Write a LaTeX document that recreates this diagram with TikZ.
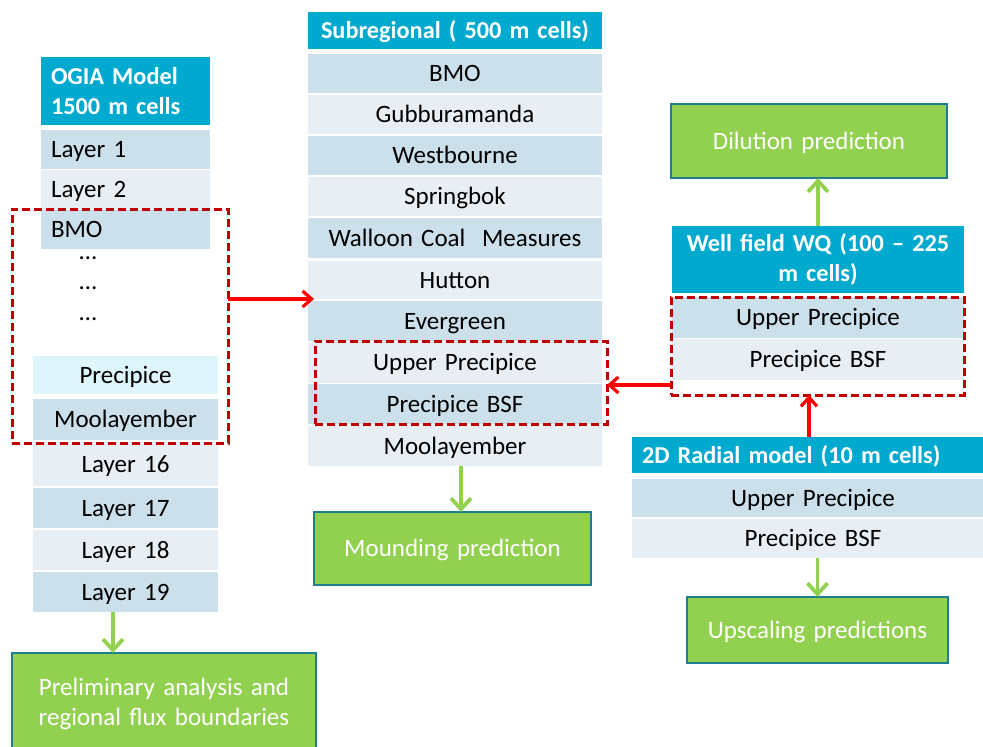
\documentclass[tikz,border=0pt]{standalone}
\usepackage{fontspec}
\setmainfont{Carlito}[WordSpace=0.7]
\usetikzlibrary{arrows.meta}
\definecolor{hdr}{HTML}{00A9CE}
\definecolor{rowdk}{HTML}{CBE0EA}
\definecolor{rowlt}{HTML}{E7EFF5}
\definecolor{rowcy}{HTML}{DEF5FB}
\definecolor{grn}{HTML}{92D050}
\definecolor{teal}{HTML}{1F7D8E}
\definecolor{dred}{HTML}{C00000}
\definecolor{bred}{HTML}{FF0000}
\newcommand\cell[7]{%
  \pgfmathsetmacro\cellW{#5-#3}\pgfmathsetmacro\cellH{#6-#4}\pgfmathsetmacro\cellT{#5-#3-20}%
  \node[cellbase,anchor=north west,minimum width=\cellW pt,minimum height=\cellH pt,text width=\cellT pt,#2] (#1) at (#3,#4) {#7};}
\newcommand\dbox[5]{%
  \pgfmathsetmacro\cellW{#4-#2}\pgfmathsetmacro\cellH{#5-#3}%
  \node[dashbox,anchor=north west,minimum width=\cellW pt,minimum height=\cellH pt] (#1) at (#2,#3) {};}
\tikzset{
  cellbase/.style={inner xsep=10pt,inner ysep=0pt,outer sep=0pt,font=\fontsize{25}{30}\selectfont},
  ol/.style={text height=16pt,text depth=0pt},
  hdrL/.style={fill=hdr,text=white,font=\fontsize{24.3}{30}\selectfont\bfseries,align=left},
  hdrC/.style={fill=hdr,text=white,font=\fontsize{24.3}{30}\selectfont\bfseries,align=center},
  dkL/.style={fill=rowdk,align=left,ol},
  ltL/.style={fill=rowlt,align=left,ol},
  dkC/.style={fill=rowdk,align=center,ol},
  ltC/.style={fill=rowlt,align=center,ol},
  cyC/.style={fill=rowcy,align=center,ol},
  outbox/.style={fill=grn,draw=teal,line width=2.5pt,text=white,align=center},
  dashbox/.style={draw=dred,line width=3pt,dash pattern=on 8pt off 4pt,inner sep=0pt,outer sep=0pt},
  redar/.style={draw=bred,line width=3.2pt,-{Straight Barb[length=9pt,width=16pt,line width=3.2pt]}},
  grnar/.style={draw=grn,line width=3.8pt,-{Straight Barb[length=11pt,width=20pt,line width=3.8pt]}},
  dots/.style={font=\fontsize{25}{30}\selectfont,anchor=base,inner sep=0pt,text height=4pt,text depth=0pt}
}
\begin{document}
\begin{tikzpicture}[x=1pt,y=-1pt]
\useasboundingbox[fill=white] (0,0) rectangle (983,747);
% left column
\cell{lh}{hdrL}{41}{57}{210}{125}{OGIA Model\\1500 m cells}
\cell{l1}{dkL}{41}{130}{210}{169}{Layer 1}
\cell{l2}{ltL}{41}{170}{210}{209}{Layer 2}
\cell{lbmo}{dkL}{41}{210}{210}{249}{BMO}
\node[dots] (ld1) at (88,259) {…};
\node[dots] (ld2) at (88,289) {…};
\node[dots] (ld3) at (88,320) {…};
\cell{lprec}{cyC}{33}{356}{218}{394}{Precipice}
\cell{lmoo}{dkC}{33}{399}{218}{440}{Moolayember}
\cell{l16}{ltC}{33}{442}{218}{486}{Layer 16}
\cell{l17}{dkC}{33}{488}{218}{528}{Layer 17}
\cell{l18}{ltC}{33}{530}{218}{570}{Layer 18}
\cell{l19}{dkC}{33}{572}{218}{612}{Layer 19}
\cell{prelim}{outbox}{12}{653}{316}{755}{Preliminary analysis and\\regional flux boundaries}
\dbox{d1}{12}{209}{228}{443}
% middle column
\cell{mh}{hdrC,ol,inner xsep=1pt,text width=292pt}{308}{12}{602}{49}{Subregional ( 500 m cells)}
\cell{m1}{dkC}{308}{54}{602}{93}{BMO}
\cell{m2}{ltC}{308}{95}{602}{134}{Gubburamanda}
\cell{m3}{dkC}{308}{136}{602}{175}{Westbourne}
\cell{m4}{ltC}{308}{177}{602}{216}{Springbok}
\cell{m5}{dkC}{308}{218}{602}{258}{Walloon Coal\ \ Measures}
\cell{m6}{ltC}{308}{261}{602}{299}{Hutton}
\cell{m7}{dkC}{308}{301}{602}{341}{Evergreen}
\cell{m8}{ltC}{308}{342}{602}{383}{Upper Precipice}
\cell{m9}{dkC}{308}{384}{602}{424}{Precipice BSF}
\cell{m10}{ltC}{308}{426}{602}{466}{Moolayember}
\cell{mound}{outbox,ol}{314}{512}{591}{585}{Mounding prediction}
\dbox{d2}{315}{341}{607}{424}
% right column
\cell{dil}{outbox,ol}{671}{104}{947}{178}{Dilution prediction}
\cell{wh}{hdrC}{672}{226}{964}{293}{Well field WQ (100 – 225\\m cells)}
\cell{w1}{dkC}{672}{297}{964}{338}{Upper Precipice}
\cell{w2}{ltC}{672}{339}{964}{380}{Precipice BSF}
\dbox{d3}{671}{297}{964}{395}
\cell{rh}{hdrL,ol}{632}{437}{994}{473}{2D Radial model (10 m cells)}
\cell{r1}{dkC}{632}{479}{994}{517}{Upper Precipice}
\cell{r2}{ltC}{632}{519}{994}{558}{Precipice BSF}
\cell{ups}{outbox,ol}{687}{597}{948}{663}{Upscaling predictions}
% connectors
\coordinate (ra) at (d1.east |- m6.south);
\draw[redar] (ra) -- ([xshift=6pt]ra -| m6.west);
\coordinate (rb) at ([yshift=10pt]d3.south west);
\draw[redar] (rb) -- (rb -| d2.east);
\coordinate (rc) at ([xshift=-4pt]rh.north);
\draw[redar] (rc) -- (rc |- d3.south);
\coordinate (ga) at ([xshift=-12.5pt]l19.south);
\draw[grnar] (ga) -- (ga |- prelim.north);
\coordinate (gb) at ([xshift=6pt]m10.south);
\draw[grnar] (gb) -- (gb |- mound.north);
\coordinate (gc) at (wh.north);
\draw[grnar] (gc) -- (gc |- dil.south);
\coordinate (gd) at (ups.north |- r2.south);
\draw[grnar] (gd) -- (ups.north);
\end{tikzpicture}
\end{document}
